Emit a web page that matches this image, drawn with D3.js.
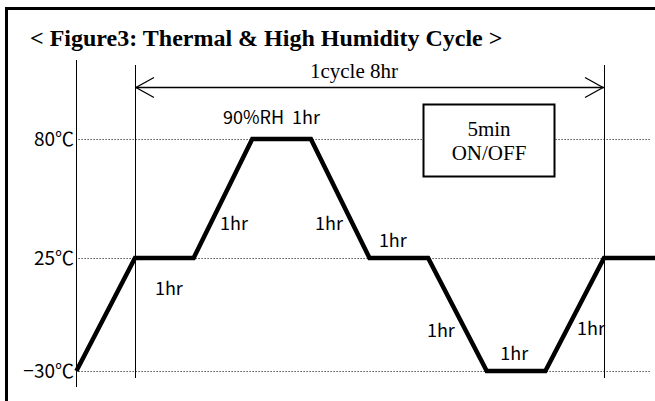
<!DOCTYPE html>
<html>
<head>
<meta charset="utf-8">
<script src="https://cdn.jsdelivr.net/npm/d3@7"></script>
<style>
  html, body { margin: 0; padding: 0; background: #fff; }
  svg { display: block; }
  .serif { font-family: "Liberation Serif", "Times New Roman", serif; fill: #000; }
  .sans { font-family: "Noto Sans CJK JP", "DejaVu Sans", sans-serif; fill: #000; }
</style>
</head>
<body>
<svg id="chart" width="655" height="401"></svg>
<script>
// 溫度曲線 (hour, °C)
const hours = [-1, 0, 1, 2, 3, 4, 5, 6, 7, 8, 9];
const temps = [-30, 25, 25, 80, 80, 25, 25, -30, -30, 25, 25];

// 溫度刻度
const tempLevels = [80, 25, -30];
const tempLabels = ["80℃", "25℃", "−30℃"];

// 各段標註 (hour, °C)
const noteText = ["1hr", "1hr", "1hr", "1hr", "90%RH  1hr", "1hr", "1hr", "1hr"];
const noteHour = [0.34, 1.45, 3.07, 4.16, 1.5, 4.98, 6.23, 7.54];
const noteTemp = [7.0, 37.9, 37.9, 30.1, 86.9, -13.5, -24.6, -12.5];

const titleText = "< Figure3: Thermal & High Humidity Cycle >";
const cycleText = "1cycle 8hr";
const cycleRange = [0, 8];
const boxText = ["5min", "ON/OFF"];

const W = 655, H = 401;
const svg = d3.select("#chart");

// x = 時間, y = 溫度
const x = d3.scaleLinear().domain([0, 8]).range([135, 604]);
const y = d3.scaleLinear().domain([-30, 25, 80]).range([371, 258, 139]);

// 外框 (上、左)
svg.append("path")
  .attr("d", `M6.5,${H} L6.5,8.5 L${W},8.5`)
  .attr("fill", "none")
  .attr("stroke", "#000")
  .attr("stroke-width", 3);

// 標題
svg.append("text")
  .attr("class", "serif")
  .attr("x", 30)
  .attr("y", 46)
  .style("font-size", "24px")
  .style("font-weight", "bold")
  .text(titleText);

// 溫度虛線
svg.append("g")
  .selectAll("line")
  .data(tempLevels)
  .enter()
  .append("line")
  .attr("x1", x(-1) + 2)
  .attr("x2", W - 4)
  .attr("y1", d => y(d) + 0.5)
  .attr("y2", d => y(d) + 0.5)
  .attr("stroke", "#555")
  .attr("stroke-width", 1)
  .attr("stroke-dasharray", "1.5,1.5");

// 溫度文字
svg.append("g")
  .selectAll("text")
  .data(tempLevels)
  .enter()
  .append("text")
  .attr("class", "sans")
  .attr("x", 74)
  .attr("y", d => y(d) + 7)
  .attr("text-anchor", "end")
  .style("font-size", "19px")
  .text((d, i) => tempLabels[i]);

// 垂直線
svg.append("line")
  .attr("x1", Math.round(x(-1)) + 0.5).attr("x2", Math.round(x(-1)) + 0.5)
  .attr("y1", 60).attr("y2", 387)
  .attr("stroke", "#000");
svg.append("g")
  .selectAll("line")
  .data(cycleRange)
  .enter()
  .append("line")
  .attr("x1", d => Math.round(x(d)) + 0.5)
  .attr("x2", d => Math.round(x(d)) + 0.5)
  .attr("y1", 65)
  .attr("y2", 378)
  .attr("stroke", "#000");

// 週期箭頭
const ay = 87.5;
const x0 = x(cycleRange[0]), x1 = x(cycleRange[1]);
svg.append("line")
  .attr("x1", x0).attr("x2", x1)
  .attr("y1", ay).attr("y2", ay)
  .attr("stroke", "#000")
  .attr("stroke-width", 1.3);
svg.append("path")
  .attr("d", `M${x0 + 19},${ay - 10} L${x0 + 1},${ay} L${x0 + 19},${ay + 10}` +
             `M${x1 - 19},${ay - 10} L${x1 - 1},${ay} L${x1 - 19},${ay + 10}`)
  .attr("fill", "none")
  .attr("stroke", "#000")
  .attr("stroke-width", 1.3);
svg.append("text")
  .attr("class", "serif")
  .attr("x", 354)
  .attr("y", 78)
  .attr("text-anchor", "middle")
  .style("font-size", "21px")
  .text(cycleText);

// 5min ON/OFF 方框
svg.append("rect")
  .attr("x", 423.5).attr("y", 104.5)
  .attr("width", 131).attr("height", 72)
  .attr("fill", "#fff")
  .attr("stroke", "#000")
  .attr("stroke-width", 2);
svg.append("g")
  .selectAll("text")
  .data(boxText)
  .enter()
  .append("text")
  .attr("class", "serif")
  .attr("x", 489)
  .attr("y", (d, i) => 136 + i * 24)
  .attr("text-anchor", "middle")
  .style("font-size", "21px")
  .text(d => d);

// 溫度曲線
const line = d3.line()
  .x(d => x(d[0]))
  .y(d => y(d[1]));
svg.append("path")
  .datum(hours.map((h, i) => [h, temps[i]]))
  .attr("d", line)
  .attr("fill", "none")
  .attr("stroke", "#000")
  .attr("stroke-width", 4.5)
  .attr("stroke-linejoin", "miter");

// 時間標註
svg.append("g")
  .selectAll("text")
  .data(noteText)
  .enter()
  .append("text")
  .attr("class", "sans")
  .attr("x", (d, i) => x(noteHour[i]))
  .attr("y", (d, i) => y(noteTemp[i]))
  .style("font-size", "18px")
  .style("white-space", "pre")
  .text(d => d);
</script>
</body>
</html>
